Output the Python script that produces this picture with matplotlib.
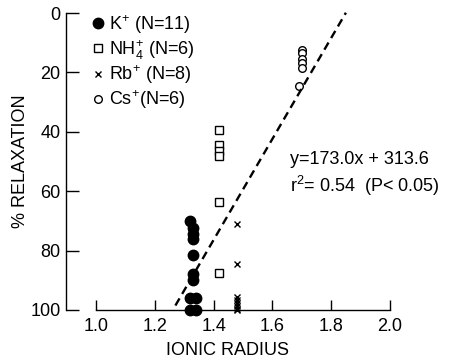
import matplotlib
matplotlib.use("Agg")
import matplotlib.pyplot as plt
import numpy as np

plt.rcParams['font.family'] = ['Liberation Sans', 'DejaVu Sans']
plt.rcParams['mathtext.fontset'] = 'custom'
plt.rcParams['mathtext.rm'] = 'Liberation Sans'

# values
k_x = [1.32, 1.33, 1.33, 1.33, 1.33, 1.33, 1.33, 1.32, 1.34, 1.32, 1.34]
k_y = [70, 72.5, 74.5, 76, 81.5, 88, 90, 96, 96, 100, 100]
nh4_x = [1.42] * 6
nh4_y = [39.5, 44.5, 46.5, 48, 63.5, 87.5]
rb_x = [1.48] * 8
rb_y = [71, 84.5, 95.5, 96.5, 97.5, 98.5, 99.5, 100]
cs_x = [1.70, 1.70, 1.70, 1.70, 1.70, 1.69]
cs_y = [12.5, 13.5, 15.5, 17, 18.5, 24.5]

fit_slope = -170.0
fit_intercept = 314.4
fit_range = [1.27, 1.85]

x_ticks = [1.0, 1.2, 1.4, 1.6, 1.8, 2.0]
y_ticks = [0, 20, 40, 60, 80, 100]

fig = plt.figure(figsize=(4.49, 3.61), dpi=100)
ax = fig.add_axes([66 / 449, 51 / 361, 324 / 449, 297 / 361])

ax.plot(k_x, k_y, 'o', color='black', ms=7.5, clip_on=False,
        label=r'K$^{+}$ (N=11)')
ax.plot(nh4_x, nh4_y, 's', mfc='white', mec='black', mew=1.0, ms=6,
        clip_on=False, label=r'NH$_4^{+}$ (N=6)')
ax.plot(rb_x, rb_y, 'x', color='black', mew=1.0, ms=5, clip_on=False,
        label=r'Rb$^{+}$ (N=8)')
ax.plot(cs_x, cs_y, 'o', mfc='white', mec='black', mew=1.0, ms=5.5,
        clip_on=False, label=r'Cs$^{+}$(N=6)')

fx = np.array(fit_range)
ax.plot(fx, fit_slope * fx + fit_intercept, color='black', lw=1.7,
        dashes=(3.5, 2.2), clip_on=False)

ax.set_xlim(1.0 - 30 / 294, 2.0)
ax.set_ylim(100, 0)
ax.set_xticks(x_ticks)
ax.set_xticklabels([f'{t:.1f}' for t in x_ticks])
ax.set_yticks(y_ticks)

for s in ['top', 'right']:
    ax.spines[s].set_visible(False)
ax.spines['bottom'].set_bounds(1.0, 2.0)
ax.spines['left'].set_bounds(0, 100)
ax.spines['bottom'].set_linewidth(1.0)
ax.spines['left'].set_linewidth(1.0)

ax.tick_params(axis='y', direction='in', length=9, width=1.0,
               labelsize=13, pad=4)
ax.tick_params(axis='x', direction='in', length=7, width=1.0,
               labelsize=13, pad=6)

ax.set_xlabel('IONIC RADIUS', fontsize=13, labelpad=5)
ax.set_ylabel('% RELAXATION', fontsize=13, labelpad=1)

ax.legend(loc='upper left', bbox_to_anchor=(93 / 449, 1 - 13 / 361),
          bbox_transform=fig.transFigure, frameon=False, fontsize=13,
          handlelength=0.6, handletextpad=0.3, labelspacing=0.12,
          borderpad=0, borderaxespad=0)

ax.text(290 / 449, 1 - 160 / 361, 'y=173.0x + 313.6', fontsize=13,
        transform=fig.transFigure, va='center')
ax.text(290 / 449, 1 - 186 / 361, r'r$^2$= 0.54  (P< 0.05)', fontsize=13,
        transform=fig.transFigure, va='center')

fig.savefig('out.png', dpi=100)
